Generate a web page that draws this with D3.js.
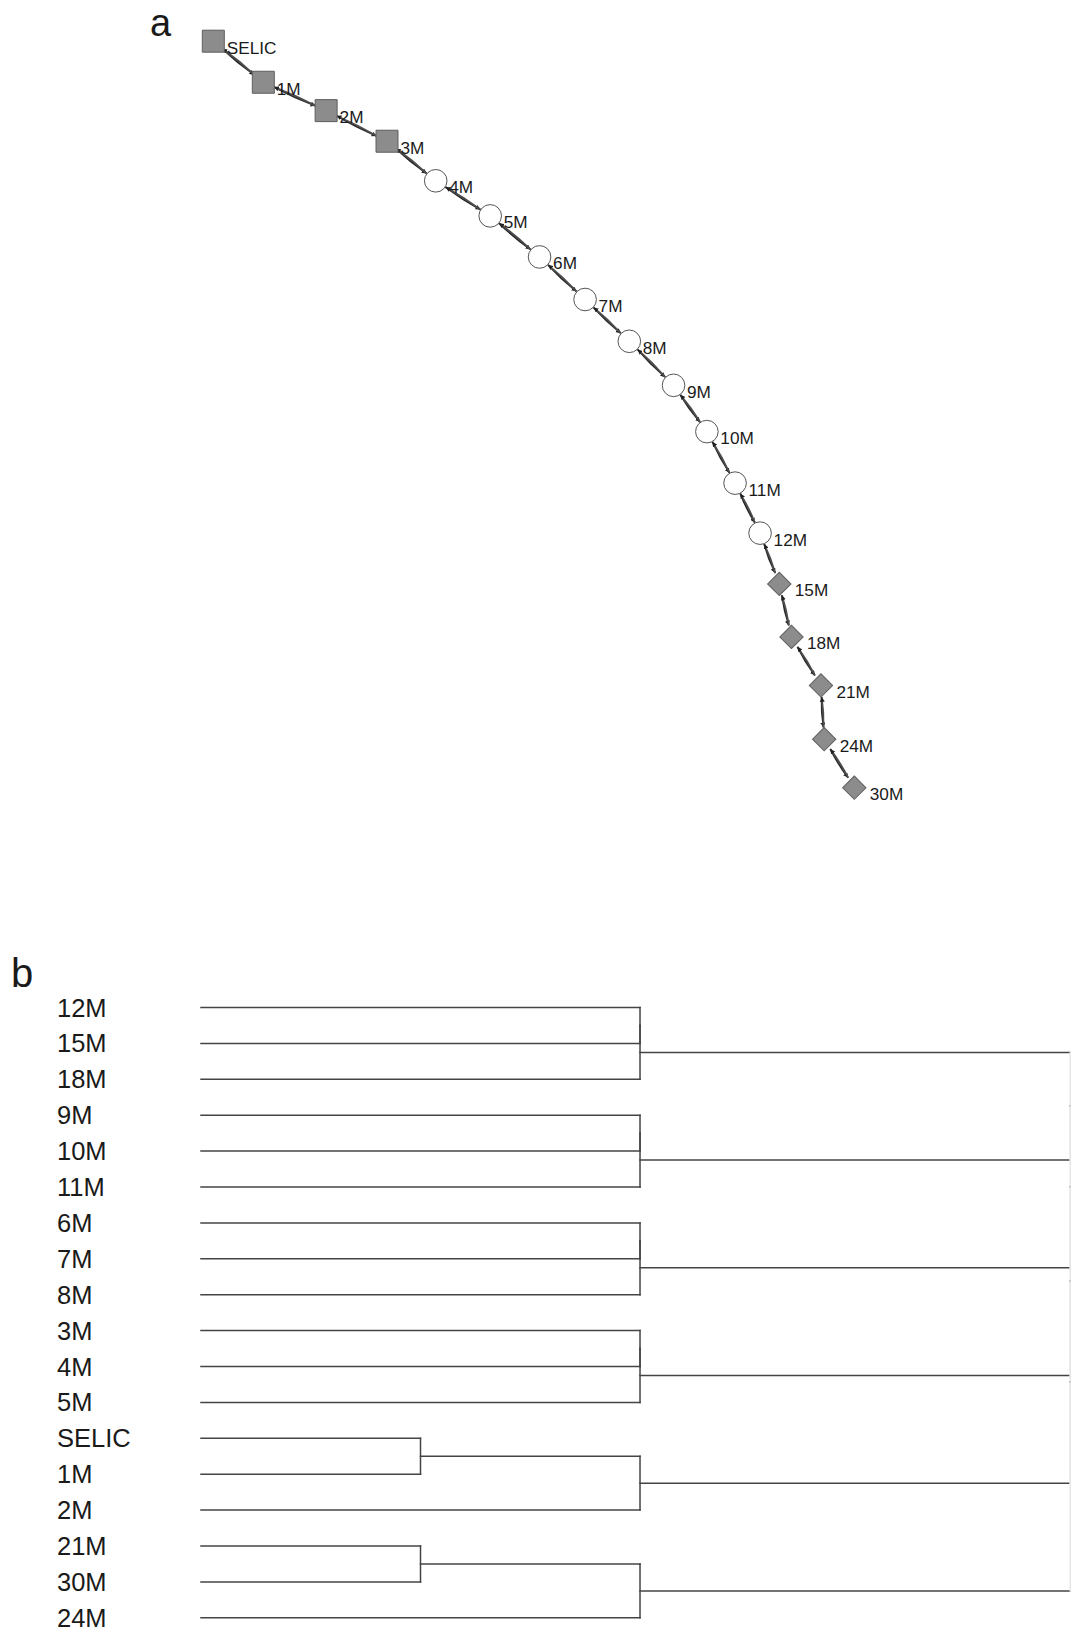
<!DOCTYPE html>
<html>
<head>
<meta charset="utf-8">
<script src="https://cdn.jsdelivr.net/npm/d3@7"></script>
<style>
  html, body { margin: 0; padding: 0; background: #fff; }
  svg { display: block; }
  text { font-family: "Liberation Sans", Arial, Helvetica, sans-serif; fill: #1a1a1a; }
</style>
</head>
<body>
<svg id="fig" width="1073" height="1632"></svg>
<script>
// ---- Panel a: network of maturities (layout coordinates, unit square) ----
const nodeLabels = ["SELIC","1M","2M","3M","4M","5M","6M","7M","8M","9M","10M","11M","12M","15M","18M","21M","24M","30M"];
const nodeShapes = ["square","square","square","square",
                    "circle","circle","circle","circle","circle","circle","circle","circle","circle",
                    "diamond","diamond","diamond","diamond","diamond"];
const layoutX = [0.000,0.078,0.176,0.271,0.347,0.432,0.509,0.580,0.649,0.718,0.770,0.814,0.853,0.883,0.902,0.948,0.953,1.000];
const layoutY = [0.000,0.055,0.093,0.134,0.187,0.234,0.289,0.346,0.402,0.461,0.523,0.592,0.659,0.727,0.798,0.863,0.935,1.000];

// ---- Panel b: hierarchical clustering (R-style merge table) ----
const leafLabels = ["12M","15M","18M","9M","10M","11M","6M","7M","8M","3M","4M","5M","SELIC","1M","2M","21M","30M","24M"];
// negative = leaf (1-based index into leafLabels), positive = earlier merge (1-based)
const mergeA = [-13,-16,-1, 3,-4, 5,-7, 7,-10, 9, 1, 2, 4,13,14,15,16];
const mergeB = [-14,-17,-2,-3,-5,-6,-8,-9,-11,-12,-15,-18, 6, 8,10,11,12];
const mergeHeight = [0.5,0.5,1,1,1,1,1,1,1,1,1,1,1.98,1.98,1.98,1.98,1.98];

const svg = d3.select("#fig");

// ================= Panel a =================
const gA = svg.append("g");
gA.append("text").attr("x", 150).attr("y", 36).attr("font-size", 38).text("a");

const xA = d3.scaleLinear().domain([0, 1]).range([213.3, 854.3]);
const yA = d3.scaleLinear().domain([0, 1]).range([41.2, 787.7]);

const nodes = nodeLabels.map((lab, i) => ({
  label: lab, shape: nodeShapes[i], x: xA(layoutX[i]), y: yA(layoutY[i])
}));

const defs = svg.append("defs");
defs.append("marker")
  .attr("id", "arr").attr("viewBox", "0 -3 6 6")
  .attr("refX", 5.5).attr("refY", 0)
  .attr("markerWidth", 5).attr("markerHeight", 5)
  .attr("markerUnits", "userSpaceOnUse")
  .attr("orient", "auto")
  .append("path").attr("d", "M0,-3L6,0L0,3Z").attr("fill", "#222");

// mutual edges between consecutive maturities, drawn as two slightly bent arcs
const edgeG = gA.append("g").attr("fill", "none");
for (let i = 0; i < nodes.length - 1; i++) {
  const a = nodes[i], b = nodes[i + 1];
  [[a, b], [b, a]].forEach(([s, t], k) => {
    const dx = t.x - s.x, dy = t.y - s.y, len = Math.hypot(dx, dy);
    const ux = dx / len, uy = dy / len;
    const nx = -uy, ny = ux;
    const r0 = 11.5, r1 = 12;
    const sx = s.x + ux * r0, sy = s.y + uy * r0;
    const tx = t.x - ux * r1, ty = t.y - uy * r1;
    const bend = 1.4;
    const cx = (sx + tx) / 2 + nx * bend, cy = (sy + ty) / 2 + ny * bend;
    edgeG.append("path")
      .attr("d", `M${sx},${sy}Q${cx},${cy} ${tx},${ty}`)
      .attr("stroke", k === 0 ? "#262626" : "#4d4d4d")
      .attr("stroke-width", 1.8)
      .attr("marker-end", "url(#arr)");
  });
}

const shapeGen = {
  square: d3.symbol().type(d3.symbolSquare).size(22 * 22),
  circle: d3.symbol().type(d3.symbolCircle).size(Math.PI * 11.3 * 11.3),
  diamond: d3.symbol().type(d3.symbolSquare).size(16.5 * 16.5)
};

const nodeG = gA.append("g").selectAll("g").data(nodes).join("g")
  .attr("transform", d => `translate(${d.x},${d.y})`);
nodeG.append("path")
  .attr("d", d => shapeGen[d.shape]())
  .attr("transform", d => d.shape === "diamond" ? "rotate(45)" : null)
  .attr("fill", d => d.shape === "circle" ? "#ffffff" : "#8c8c8c")
  .attr("stroke", d => d.shape === "circle" ? "#555" : "#5e5e5e")
  .attr("stroke-width", 1);
nodeG.append("text")
  .attr("x", d => d.shape === "diamond" ? 15.5 : 13.5)
  .attr("y", 12.5)
  .attr("font-size", 17.2)
  .text(d => d.label);

// ================= Panel b =================
const gB = svg.append("g");
gB.append("text").attr("x", 11).attr("y", 987).attr("font-size", 40).text("b");

const yB = d3.scalePoint().domain(leafLabels).range([1007.5, 1617.8]);
const xB = d3.scaleLinear().domain([0, 1.984]).range([201, 1072]);

const fsB = 25.5;
gB.append("g").selectAll("text").data(leafLabels).join("text")
  .attr("x", 57)
  .attr("y", d => yB(d) + fsB * 0.355)
  .attr("font-size", fsB)
  .text(d => d);

// positions of merges: midpoint of the two children
const mergeY = [];
const childPos = id => id < 0
  ? { y: yB(leafLabels[-id - 1]), h: 0 }
  : { y: mergeY[id - 1], h: mergeHeight[id - 1] };

const segs = [];
mergeA.forEach((a, i) => {
  const A = childPos(a), B = childPos(mergeB[i]);
  const h = mergeHeight[i];
  mergeY[i] = (A.y + B.y) / 2;
  const top = h > 1.5;
  segs.push({ x1: xB(A.h), y1: A.y, x2: xB(h), y2: A.y, light: false });
  segs.push({ x1: xB(B.h), y1: B.y, x2: xB(h), y2: B.y, light: false });
  segs.push({ x1: xB(h), y1: A.y, x2: xB(h), y2: B.y, light: top });
});

gB.append("g").selectAll("line").data(segs).join("line")
  .attr("x1", d => d.x1).attr("y1", d => d.y1)
  .attr("x2", d => d.x2).attr("y2", d => d.y2)
  .attr("stroke", d => d.light ? "#e6e6e6" : "#444")
  .attr("stroke-width", 1.5)
  .attr("stroke-linecap", "square");
</script>
</body>
</html>
